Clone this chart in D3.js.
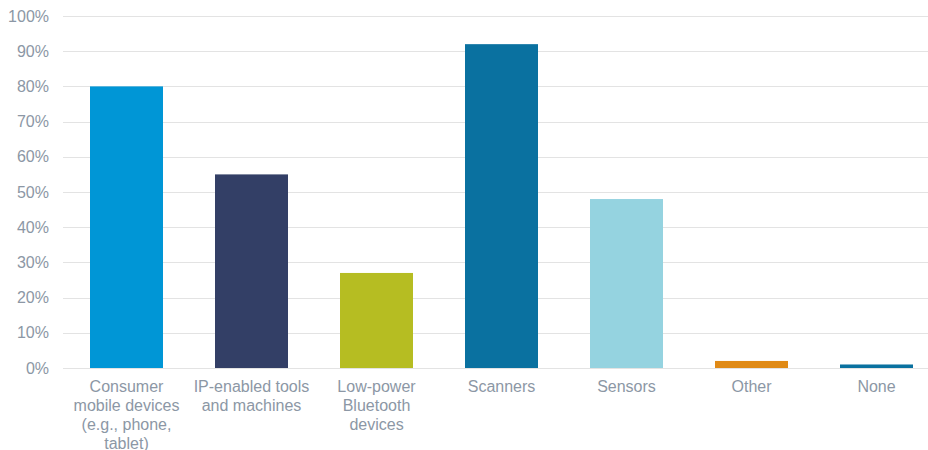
<!DOCTYPE html>
<html>
<head>
<meta charset="utf-8">
<script src="https://cdn.jsdelivr.net/npm/d3@7"></script>
<style>
  body { margin: 0; background: #fff; }
  text { font-family: "Liberation Sans", Arial, sans-serif; }
</style>
</head>
<body>
<svg id="chart" width="928" height="450"></svg>
<script>
var categories = [
  ['Consumer', 'mobile devices', '(e.g., phone,', 'tablet)'],
  ['IP-enabled tools', 'and machines'],
  ['Low-power', 'Bluetooth', 'devices'],
  ['Scanners'],
  ['Sensors'],
  ['Other'],
  ['None']
];
var values = [80, 55, 27, 92, 48, 2, 1];
var colors = ['#0096d6', '#333f66', '#b6bd22', '#0a71a0', '#95d3e0', '#e08a16', '#0a71a0'];
var yTicks = [0, 10, 20, 30, 40, 50, 60, 70, 80, 90, 100];

var svg = d3.select('#chart');
var plotLeft = 64, plotRight = 939, plotTop = 16, plotBottom = 368;

var x = d3.scaleBand()
    .domain(d3.range(values.length))
    .range([plotLeft, plotRight])
    .paddingInner(0.416)
    .paddingOuter(0.208);

var y = d3.scaleLinear()
    .domain([0, 100])
    .range([plotBottom, plotTop]);

// gridlines
svg.append('g')
    .selectAll('line')
    .data(yTicks)
    .enter().append('line')
    .attr('x1', 63)
    .attr('x2', 928)
    .attr('y1', function(d) { return Math.round(y(d)) + 0.5; })
    .attr('y2', function(d) { return Math.round(y(d)) + 0.5; })
    .style('stroke', '#e3e3e3')
    .style('stroke-width', 1.2);

// y labels
svg.append('g')
    .selectAll('text')
    .data(yTicks)
    .enter().append('text')
    .attr('x', 49)
    .attr('y', function(d) { return y(d); })
    .attr('dy', '0.35em')
    .attr('text-anchor', 'end')
    .style('fill', '#8c97a5')
    .style('font-size', '16px')
    .text(function(d) { return d + '%'; });

// bars
svg.append('g')
    .selectAll('rect')
    .data(values)
    .enter().append('rect')
    .attr('x', function(d, i) { return x(i); })
    .attr('width', x.bandwidth())
    .attr('y', function(d) { return y(d); })
    .attr('height', function(d) { return y(0) - y(d); })
    .style('fill', function(d, i) { return colors[i]; });

// x labels
var xl = svg.append('g')
    .selectAll('text')
    .data(categories)
    .enter().append('text')
    .attr('text-anchor', 'middle')
    .attr('x', function(d, i) { return x(i) + x.bandwidth() / 2; })
    .attr('y', 392)
    .style('fill', '#8c97a5')
    .style('font-size', '16px');

xl.selectAll('tspan')
    .data(function(d) { return d; })
    .enter().append('tspan')
    .attr('x', function() { return d3.select(this.parentNode).attr('x'); })
    .attr('dy', function(d, i) { return i === 0 ? 0 : 19; })
    .text(function(d) { return d; });
</script>
</body>
</html>
